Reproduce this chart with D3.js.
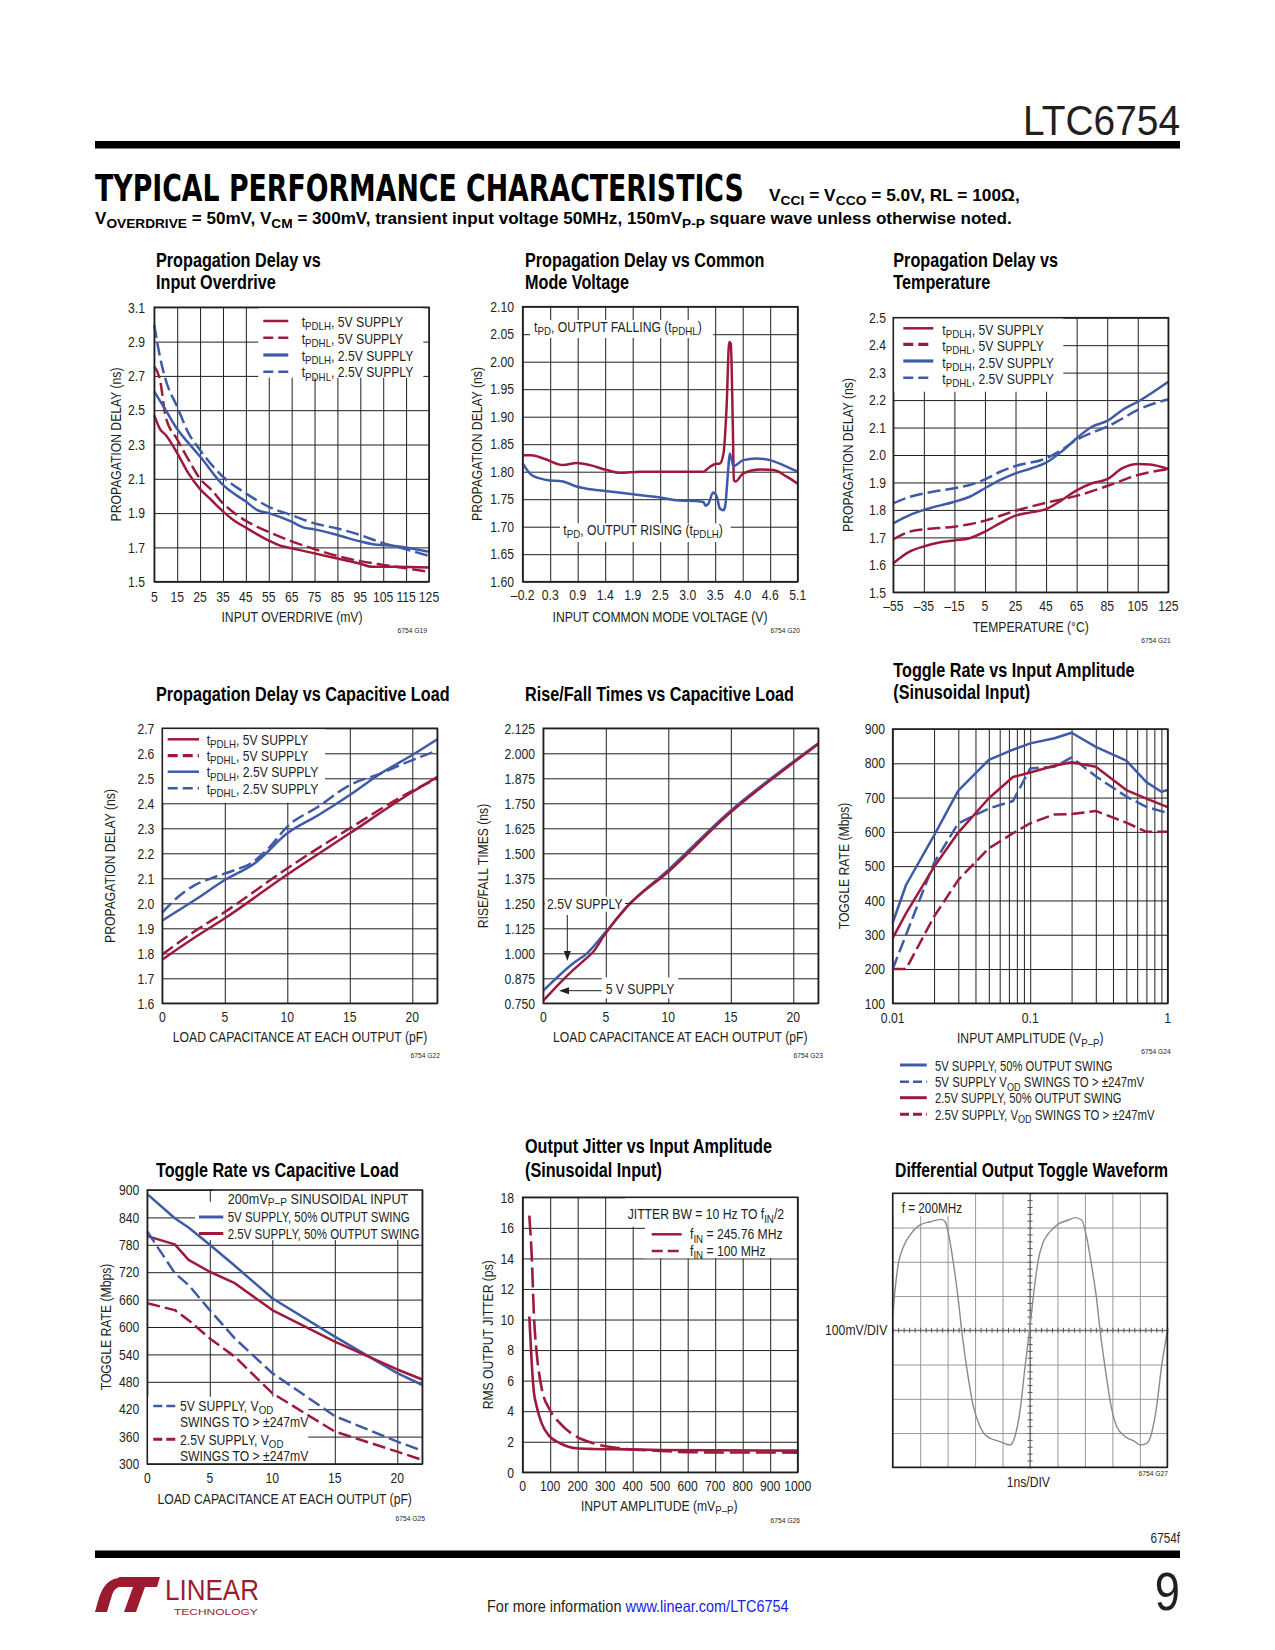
<!DOCTYPE html>
<html><head><meta charset="utf-8">
<script src="https://cdn.jsdelivr.net/npm/d3@7"></script>
<style>body{margin:0;background:#fff}svg{display:block}</style>
</head><body>
<svg id="page" width="1275" height="1650"></svg>
<script>
// ---------------- DATA ----------------
// G19 Propagation Delay vs Input Overdrive  [mV, ns]
const g19_tpdlh5  = [[5,2.47],[7.5,2.39],[10,2.355],[15,2.25],[20,2.13],[25,2.04],[30,1.975],[35,1.91],[40,1.855],[45,1.815],[55,1.74],[60,1.71],[65,1.695],[75,1.665],[85,1.635],[95,1.605],[100,1.587],[110,1.587],[125,1.583]];
const g19_tpdhl5  = [[5,2.755],[7.5,2.676],[10,2.46],[15,2.33],[20,2.21],[25,2.10],[30,2.035],[35,1.957],[40,1.9],[45,1.855],[55,1.79],[65,1.735],[75,1.69],[85,1.65],[95,1.62],[105,1.598],[115,1.578],[125,1.558]];
const g19_tpdlh25 = [[5,2.608],[10,2.5],[15,2.39],[20,2.307],[25,2.23],[35,2.064],[45,1.967],[50,1.918],[55,1.9],[65,1.85],[70,1.817],[75,1.805],[85,1.772],[95,1.735],[100,1.72],[110,1.708],[125,1.675]];
const g19_tpdhl25 = [[5,2.997],[7.5,2.81],[10,2.676],[15,2.52],[20,2.365],[25,2.268],[35,2.112],[45,2.015],[55,1.937],[65,1.888],[75,1.84],[85,1.81],[95,1.772],[105,1.725],[115,1.689],[125,1.65]];
const g19_xticks = [5,15,25,35,45,55,65,75,85,95,105,115,125];
const g19_yticks = [1.5,1.7,1.9,2.1,2.3,2.5,2.7,2.9,3.1];

// G20 Propagation Delay vs Common Mode Voltage [V, ns]
const g20_falling = [[-0.2,1.830],[-0.03,1.830],[0.2,1.824],[0.58,1.812],[0.84,1.816],[1.1,1.812],[1.42,1.803],[1.68,1.798],[2.06,1.80],[3.28,1.80],[3.41,1.809],[3.51,1.814],[3.6,1.815],[3.67,1.833],[3.73,1.918],[3.78,2.036],[3.81,2.033],[3.85,1.882],[3.87,1.785],[3.9,1.782],[4.05,1.797],[4.37,1.804],[4.63,1.803],[4.89,1.791],[5.1,1.778]];
const g20_rising  = [[-0.2,1.815],[-0.03,1.794],[0.26,1.785],[0.58,1.782],[0.84,1.773],[1.1,1.768],[1.48,1.764],[1.93,1.759],[2.45,1.753],[2.77,1.748],[3.22,1.746],[3.28,1.745],[3.33,1.738],[3.38,1.742],[3.47,1.762],[3.54,1.755],[3.6,1.733],[3.67,1.73],[3.7,1.736],[3.76,1.803],[3.79,1.833],[3.83,1.821],[3.86,1.81],[4.05,1.821],[4.3,1.824],[4.56,1.821],[4.82,1.812],[5.1,1.80]];
const g20_xticks = [-0.2,0.33,0.86,1.39,1.92,2.45,2.98,3.51,4.04,4.57,5.1];
const g20_xlabels = ["–0.2","0.3","0.9","1.4","1.9","2.5","3.0","3.5","4.0","4.6","5.1"];
const g20_yticks = [1.6,1.65,1.7,1.75,1.8,1.85,1.9,1.95,2.0,2.05,2.1];

// G21 Propagation Delay vs Temperature [°C, ns]
const g21_tpdlh5  = [[-55,1.606],[-44,1.649],[-35,1.667],[-25,1.681],[-15,1.689],[-5,1.697],[5,1.721],[15,1.752],[25,1.779],[35,1.791],[45,1.803],[55,1.835],[65,1.871],[75,1.897],[85,1.912],[95,1.952],[105,1.967],[113,1.965],[125,1.949]];
const g21_tpdhl5  = [[-55,1.693],[-44,1.721],[-35,1.729],[-15,1.739],[-5,1.748],[5,1.761],[25,1.797],[45,1.826],[65,1.851],[85,1.887],[105,1.927],[125,1.948]];
const g21_tpdlh25 = [[-55,1.751],[-44,1.782],[-35,1.80],[-15,1.83],[-5,1.848],[5,1.879],[15,1.909],[25,1.933],[35,1.951],[45,1.972],[55,2.012],[65,2.061],[75,2.103],[85,2.124],[95,2.164],[105,2.194],[125,2.267]];
const g21_tpdhl25 = [[-55,1.824],[-44,1.848],[-35,1.86],[-15,1.879],[-5,1.891],[5,1.911],[15,1.939],[25,1.96],[45,1.988],[55,2.018],[65,2.055],[75,2.081],[85,2.103],[95,2.133],[105,2.164],[125,2.203]];
const g21_xticks = [-55,-35,-15,5,25,45,65,85,105,125];
const g21_xlabels = ["–55","–35","–15","5","25","45","65","85","105","125"];
const g21_yticks = [1.5,1.6,1.7,1.8,1.9,2.0,2.1,2.2,2.3,2.4,2.5];

// G22 Propagation Delay vs Capacitive Load [pF, ns]
const g22_tpdlh5  = [[0,1.775],[2.5,1.86],[5,1.94],[10,2.115],[15,2.28],[20,2.445],[22,2.505]];
const g22_tpdhl5  = [[0,1.795],[2.5,1.885],[5,1.965],[10,2.14],[15,2.30],[20,2.45],[22,2.50]];
const g22_tpdlh25 = [[0,1.931],[2.6,2.013],[5,2.093],[7.4,2.16],[10,2.28],[12.5,2.353],[15,2.433],[17.5,2.52],[20,2.593],[22,2.656]];
const g22_tpdhl25 = [[0,1.963],[1.3,2.027],[2.6,2.073],[3.9,2.1],[5.8,2.133],[7.1,2.16],[8.5,2.22],[10,2.307],[12.5,2.387],[15,2.473],[17.5,2.52],[20,2.573],[22,2.611]];
const g22_xticks = [0,5,10,15,20];
const g22_xgrid = [0,5,10,15,20,22];
const g22_yticks = [1.6,1.7,1.8,1.9,2.0,2.1,2.2,2.3,2.4,2.5,2.6,2.7];

// G23 Rise/Fall Times vs Capacitive Load [pF, ns]
const g23_supply25 = [[0,0.813],[2.4,0.95],[3.5,1.0],[4.9,1.1],[6.7,1.233],[10,1.417],[14.9,1.708],[20,1.958],[22,2.05]];
const g23_supply5  = [[0,0.763],[1.3,0.85],[2.4,0.917],[3.3,0.967],[4,1.008],[4.9,1.092],[6.7,1.233],[10,1.408],[14.9,1.70],[20,1.953],[22,2.047]];
const g23_yticks = [0.75,0.875,1.0,1.125,1.25,1.375,1.5,1.625,1.75,1.875,2.0,2.125];
const g23_ylabels = ["0.750","0.875","1.000","1.125","1.250","1.375","1.500","1.625","1.750","1.875","2.000","2.125"];

// G24 Toggle Rate vs Input Amplitude [Vp-p, Mbps]
const g24_5v50   = [[0.01,335],[0.0125,445],[0.02,590],[0.03,720],[0.05,810],[0.07,835],[0.1,858],[0.15,873],[0.2,889],[0.3,848],[0.5,808],[0.7,745],[0.9,717],[1.0,722]];
const g24_5vVod  = [[0.01,200],[0.02,510],[0.03,625],[0.05,668],[0.075,690],[0.1,785],[0.15,790],[0.2,817],[0.3,762],[0.5,703],[0.7,673],[1,655]];
const g24_25v50  = [[0.01,290],[0.0125,362],[0.02,498],[0.03,598],[0.05,698],[0.075,760],[0.1,773],[0.15,793],[0.2,803],[0.3,790],[0.5,722],[0.7,697],[1,672]];
const g24_25vVod = [[0.01,200],[0.0125,200],[0.02,353],[0.03,460],[0.05,552],[0.075,596],[0.1,625],[0.15,651],[0.2,652],[0.3,661],[0.5,627],[0.7,600],[1,600]];
const g24_xgrid = [0.01,0.02,0.03,0.04,0.05,0.06,0.07,0.08,0.09,0.1,0.2,0.3,0.4,0.5,0.6,0.7,0.8,0.9,1];
const g24_xticks = [0.01,0.1,1];
const g24_xlabels = ["0.01","0.1","1"];
const g24_yticks = [100,200,300,400,500,600,700,800,900];

// G25 Toggle Rate vs Capacitive Load [pF, Mbps]
const g25_5v50   = [[0,891],[2.2,838],[3.3,818],[5,780],[7,734],[10,663],[15,579],[20,499],[22,473]];
const g25_25v50  = [[0,799],[2.2,781],[3.3,747],[5,721],[7,696],[10,637],[15,568],[17.7,535],[20,507],[22,485]];
const g25_5vVod  = [[0,809],[2.2,718],[3.3,692],[5,637],[7,575],[10,499],[15,405],[20,349],[22,329]];
const g25_25vVod = [[0,652],[2.2,637],[3.3,615],[5,575],[7,535],[10,455],[15,371],[20,327],[22,309]];
const g25_xticks = [0,5,10,15,20];
const g25_xgrid = [0,5,10,15,20,22];
const g25_yticks = [300,360,420,480,540,600,660,720,780,840,900];

// G26 Output Jitter vs Input Amplitude [mVp-p, ps]
const g26_f245 = [[24,10.2],[33,7.1],[41,5.2],[51,4.3],[69,3.2],[99,2.33],[136,1.9],[196,1.57],[257,1.53],[378,1.5],[500,1.46],[1000,1.42]];
const g26_f100 = [[24,16.8],[33,14.1],[41,10.2],[51,7.8],[69,5.5],[99,4.08],[136,3.2],[196,2.33],[257,1.9],[378,1.53],[500,1.4],[620,1.31],[1000,1.29]];
const g26_xticks = [0,100,200,300,400,500,600,700,800,900,1000];
const g26_yticks = [0,2,4,6,8,10,12,14,16,18];

// G27 Differential Output Toggle Waveform [div (1ns/div), div (100mV/div)]
const g27_wave = [[0,0.4],[0.085,1.18],[0.21,1.96],[0.39,2.44],[0.63,2.78],[1.0,3.08],[1.36,3.17],[1.78,3.24],[1.91,3.17],[2.03,2.83],[2.21,1.96],[2.39,0.89],[2.51,0.01],[2.69,-1.06],[2.94,-2.23],[3.18,-2.81],[3.42,-3.09],[3.91,-3.25],[4.27,-3.35],[4.45,-3.1],[4.64,-2.33],[4.82,-1.06],[5.0,0.11],[5.15,1.18],[5.3,2.05],[5.49,2.59],[5.73,2.88],[6.03,3.1],[6.4,3.22],[6.64,3.29],[6.88,3.22],[7.06,2.73],[7.25,1.86],[7.43,0.89],[7.55,0.01],[7.73,-1.06],[7.97,-2.28],[8.16,-2.81],[8.46,-3.1],[8.82,-3.25],[9.0,-3.35],[9.25,-3.3],[9.43,-3.0],[9.61,-2.23],[9.79,-1.06],[10,-0.04]];
const g27_xdiv = [0,1,2,3,4,5,6,7,8,9,10];
const g27_ydiv = [-4,-3,-2,-1,0,1,2,3,4];

// ---------------- RENDER ----------------
const svg = d3.select('#page');
svg.append('rect').attr('width',1275).attr('height',1650).attr('fill','#fff');
const RED = '#9d1a3c', BLUE = '#3f5ba8', INK = '#231f20', DASH = '13,5';

function fontOK(name){
  const cv = document.createElement('canvas').getContext('2d');
  const s = 'INPUT OVERDRIVE (mV) 0123456789 Propagation';
  cv.font = '40px monospace'; const a = cv.measureText(s).width;
  cv.font = `40px "${name}", monospace`; const b = cv.measureText(s).width;
  return Math.abs(a-b) > 1;
}
let NF = "'Liberation Sans', Arial, sans-serif", SX = 0.84;
if (fontOK('Liberation Sans Narrow')) { NF = "'Liberation Sans Narrow', sans-serif"; SX = 1; }
else if (fontOK('Arial Narrow')) { NF = "'Arial Narrow', sans-serif"; SX = 1; }

function T(parent, x, y, str, o = {}) {
  const size = o.size || 14.5;
  let sx = o.family ? 1 : SX;
  const t = parent.append('text')
    .attr('font-family', o.family || NF)
    .attr('font-size', size)
    .attr('font-weight', o.weight || 'normal')
    .attr('text-anchor', o.anchor || 'start')
    .attr('fill', o.fill || INK);
  const parts = str.split(/(_\{[^}]*\})/);
  let shifted = false;
  const sh = size * (o.subShift || 0.24);
  parts.forEach(p => {
    if (!p) return;
    if (p.startsWith('_{')) {
      t.append('tspan').attr('font-size', size * 0.8).attr('dy', shifted ? 0 : sh).text(p.slice(2, -1));
      shifted = true;
    } else {
      const ts = t.append('tspan').text(p);
      if (shifted) { ts.attr('dy', -sh); shifted = false; }
    }
  });
  if (o.len) { const w = t.node().getComputedTextLength(); if (w > 0) sx = o.len / w; }
  let tr = `translate(${x},${y})`;
  if (o.rotate) tr += ` rotate(${o.rotate})`;
  if (Math.abs(sx - 1) > 1e-3) tr += ` scale(${sx.toFixed(4)},1)`;
  t.attr('transform', tr);
  return t;
}

function chart(c) {
  const g = svg.append('g');
  const x = (c.log ? d3.scaleLog() : d3.scaleLinear()).domain(c.xd).range([c.L, c.R]);
  const y = d3.scaleLinear().domain(c.yd).range([c.B, c.T]);
  const gc = c.gridColor || INK;
  g.append('g').attr('transform', `translate(0,${c.B})`)
    .call(d3.axisBottom(x).tickValues(c.xg).tickSize(-(c.B - c.T)).tickFormat(''))
    .call(a => { a.select('.domain').remove(); a.selectAll('line').attr('stroke', gc).attr('stroke-width', c.gw || 1); });
  g.append('g').attr('transform', `translate(${c.L},0)`)
    .call(d3.axisLeft(y).tickValues(c.yg).tickSize(-(c.R - c.L)).tickFormat(''))
    .call(a => { a.select('.domain').remove(); a.selectAll('line').attr('stroke', gc).attr('stroke-width', c.gw || 1); });
  (c.masks || []).forEach(m => g.append('rect').attr('x', m[0]).attr('y', m[1]).attr('width', m[2] - m[0]).attr('height', m[3] - m[1]).attr('fill', '#fff'));
  const line = d3.line().x(d => x(d[0])).y(d => y(d[1])).curve(c.curve || d3.curveMonotoneX);
  (c.series || []).forEach(s => {
    g.append('path').datum(s.data).attr('fill', 'none').attr('stroke', s.color)
      .attr('stroke-width', s.w || 2.5).attr('stroke-dasharray', s.dash ? (s.dash === true ? DASH : s.dash) : null)
      .attr('stroke-linejoin', 'round').attr('d', line);
  });
  g.append('rect').attr('x', c.L).attr('y', c.T).attr('width', c.R - c.L).attr('height', c.B - c.T)
    .attr('fill', 'none').attr('stroke', INK).attr('stroke-width', 1.6);
  if (c.xt) c.xt.forEach((v, i) => T(g, x(v), c.xlY, c.xtl ? c.xtl[i] : String(v), { anchor: 'middle' }));
  if (c.yt) c.yt.forEach((v, i) => T(g, c.ylX, y(v) + 5.2, c.ytl ? c.ytl[i] : String(v), { anchor: 'end' }));
  if (c.ytitle) T(g, c.ytitle[0] + 5, c.ytitle[1], c.ytitle[2], { anchor: 'middle', rotate: -90 });
  if (c.xtitle) T(g, c.xtitle[0], c.xtitle[1], c.xtitle[2], { anchor: 'middle' });
  if (c.code) T(g, c.code[0], c.code[1], c.code[2], { anchor: 'end', size: 8 });
  (c.title || []).forEach(t => T(g, t[0], t[1], t[2], { size: 19.3, weight: 'bold', fill: '#000' }));
  return { g, x, y };
}

function legendRows(g, x1, x2, xt, rows) {
  rows.forEach(r => {
    g.append('line').attr('x1', x1).attr('x2', x2).attr('y1', r.ly).attr('y2', r.ly)
      .attr('stroke', r.color).attr('stroke-width', r.w || 2.5)
      .attr('stroke-dasharray', r.dash ? (r.dash === true ? '10,5' : r.dash) : null);
    const o = {};
    if (r.len) o.len = r.len;
    if (r.size) o.size = r.size;
    T(g, xt, r.ty, r.text, o);
  });
}
const r1 = (a, b, s) => d3.range(a, b + s / 2, s).map(v => +v.toFixed(4));

// ---------- Page header ----------
T(svg, 1180, 134.7, 'LTC6754', { size: 42, anchor: 'end', len: 157 });
svg.append('rect').attr('x', 95).attr('y', 141).attr('width', 1085).attr('height', 7.5).attr('fill', '#000');
T(svg, 95, 201, 'TYPICAL PERFORMANCE CHARACTERISTICS', { family: "'DejaVu Sans', sans-serif", size: 37, weight: 'bold', fill: '#000', len: 649 });
T(svg, 769, 201, 'V_{CCI} = V_{CCO} = 5.0V, RL = 100Ω,', { size: 17, weight: 'bold', fill: '#000', len: 251 });
T(svg, 95, 224, 'V_{OVERDRIVE} = 50mV, V_{CM} = 300mV, transient input voltage 50MHz, 150mV_{P-P} square wave unless otherwise noted.', { size: 17, weight: 'bold', fill: '#000', len: 917 });

// ---------- G19 ----------
{
  const c = chart({ L: 154.3, R: 429, T: 307.3, B: 581.7, xd: [5, 125], yd: [1.5, 3.1],
    xg: g19_xticks, yg: g19_yticks, xt: g19_xticks, yt: g19_yticks, ytl: g19_yticks.map(d => d.toFixed(1)),
    ylX: 145, xlY: 601.7, masks: [[258.3, 307.3, 423.3, 377.7]],
    series: [{ data: g19_tpdlh5, color: RED }, { data: g19_tpdhl5, color: RED, dash: true },
             { data: g19_tpdlh25, color: BLUE }, { data: g19_tpdhl25, color: BLUE, dash: true }],
    ytitle: [115.7, 444.5, 'PROPAGATION DELAY (ns)'], xtitle: [292, 621.7, 'INPUT OVERDRIVE (mV)'],
    code: [427, 632.7, '6754 G19'], title: [[156, 266.7, 'Propagation Delay vs'], [156, 289.3, 'Input Overdrive']] });
  legendRows(c.g, 263.3, 288.3, 301.7, [
    { ly: 321, ty: 326.7, color: RED, text: 't_{PDLH}, 5V SUPPLY' },
    { ly: 337.7, ty: 344, color: RED, dash: true, text: 't_{PDHL}, 5V SUPPLY' },
    { ly: 355, ty: 360.7, color: BLUE, w: 3.2, text: 't_{PDLH}, 2.5V SUPPLY' },
    { ly: 371.7, ty: 377.3, color: BLUE, dash: true, text: 't_{PDHL}, 2.5V SUPPLY' }]);
}

// ---------- G20 ----------
{
  const c = chart({ L: 522.7, R: 797.7, T: 306.7, B: 581.7, xd: [-0.2, 5.1], yd: [1.6, 2.1],
    xg: g20_xticks, yg: g20_yticks, xt: g20_xticks, xtl: g20_xlabels, yt: g20_yticks, ytl: g20_yticks.map(d => d.toFixed(2)),
    ylX: 514, xlY: 600, masks: [[530, 320, 713.3, 338], [560, 523.3, 730.7, 542]],
    series: [{ data: g20_falling, color: RED }, { data: g20_rising, color: BLUE }],
    ytitle: [477.3, 444, 'PROPAGATION DELAY (ns)'], xtitle: [660, 621.7, 'INPUT COMMON MODE VOLTAGE (V)'],
    code: [800, 632.7, '6754 G20'], title: [[525, 266.7, 'Propagation Delay vs Common'], [525, 289.3, 'Mode Voltage']] });
  T(c.g, 534, 331.7, 't_{PD}, OUTPUT FALLING (t_{PDHL})');
  T(c.g, 563.3, 535, 't_{PD}, OUTPUT RISING (t_{PDLH})');
}

// ---------- G21 ----------
{
  const c = chart({ L: 893.3, R: 1168.3, T: 317.7, B: 592.3, xd: [-55, 125], yd: [1.5, 2.5],
    xg: g21_xticks, yg: g21_yticks, xt: g21_xticks, xtl: g21_xlabels, yt: g21_yticks, ytl: g21_yticks.map(d => d.toFixed(1)),
    ylX: 886, xlY: 610.7, masks: [[893.3, 317.7, 1063.3, 391.7]],
    series: [{ data: g21_tpdlh5, color: RED }, { data: g21_tpdhl5, color: RED, dash: true },
             { data: g21_tpdlh25, color: BLUE }, { data: g21_tpdhl25, color: BLUE, dash: true }],
    ytitle: [848.3, 455, 'PROPAGATION DELAY (ns)'], xtitle: [1030.7, 631.7, 'TEMPERATURE (°C)'],
    code: [1170.7, 642.7, '6754 G21'], title: [[893.3, 266.7, 'Propagation Delay vs'], [893.3, 289.3, 'Temperature']] });
  legendRows(c.g, 903.3, 933.3, 942.3, [
    { ly: 328.3, ty: 335, color: RED, text: 't_{PDLH}, 5V SUPPLY' },
    { ly: 344.3, ty: 351, color: RED, dash: true, w: 3.2, text: 't_{PDHL}, 5V SUPPLY' },
    { ly: 361, ty: 367.5, color: BLUE, w: 3.2, text: 't_{PDLH}, 2.5V SUPPLY' },
    { ly: 377.7, ty: 384, color: BLUE, dash: true, text: 't_{PDHL}, 2.5V SUPPLY' }]);
}

// ---------- G22 ----------
{
  const c = chart({ L: 162.3, R: 437.3, T: 728.3, B: 1003.3, xd: [0, 22], yd: [1.6, 2.7],
    xg: g22_xgrid, yg: g22_yticks, xt: g22_xticks, yt: g22_yticks, ytl: g22_yticks.map(d => d.toFixed(1)),
    ylX: 154.3, xlY: 1022, masks: [[162.3, 728.3, 325, 802.7]],
    series: [{ data: g22_tpdlh5, color: RED }, { data: g22_tpdhl5, color: RED, dash: true },
             { data: g22_tpdlh25, color: BLUE }, { data: g22_tpdhl25, color: BLUE, dash: true }],
    ytitle: [110, 866, 'PROPAGATION DELAY (ns)'], xtitle: [300, 1042.3, 'LOAD CAPACITANCE AT EACH OUTPUT (pF)'],
    code: [440, 1057.7, '6754 G22'], title: [[156, 700.7, 'Propagation Delay vs Capacitive Load']] });
  legendRows(c.g, 167.7, 199, 206.7, [
    { ly: 739.3, ty: 745, color: RED, text: 't_{PDLH}, 5V SUPPLY' },
    { ly: 755.7, ty: 761, color: RED, dash: true, w: 3.2, text: 't_{PDHL}, 5V SUPPLY' },
    { ly: 771.7, ty: 777.3, color: BLUE, text: 't_{PDLH}, 2.5V SUPPLY' },
    { ly: 788.3, ty: 794, color: BLUE, dash: true, text: 't_{PDHL}, 2.5V SUPPLY' }]);
}

// ---------- G23 ----------
{
  const c = chart({ L: 543.3, R: 818.3, T: 728.3, B: 1003.3, xd: [0, 22], yd: [0.75, 2.125],
    xg: g22_xgrid, yg: g23_yticks, xt: g22_xticks, yt: g23_yticks, ytl: g23_ylabels,
    ylX: 535, xlY: 1022, masks: [[545, 896.7, 628.3, 911.7], [601.7, 977.3, 678.3, 998.3]],
    series: [{ data: g23_supply25, color: BLUE }, { data: g23_supply5, color: RED }],
    ytitle: [483.3, 866, 'RISE/FALL TIMES (ns)'], xtitle: [680.3, 1042.3, 'LOAD CAPACITANCE AT EACH OUTPUT (pF)'],
    code: [823, 1057.7, '6754 G23'], title: [[525, 700.7, 'Rise/Fall Times vs Capacitive Load']] });
  T(c.g, 547, 909, '2.5V SUPPLY');
  c.g.append('line').attr('x1', 625).attr('x2', 632).attr('y1', 903.5).attr('y2', 903.5).attr('stroke', INK).attr('stroke-width', 1);
  c.g.append('line').attr('x1', 567.3).attr('x2', 567.3).attr('y1', 915).attr('y2', 953).attr('stroke', INK).attr('stroke-width', 1);
  c.g.append('path').attr('d', 'M563.8,951 L570.8,951 L567.3,961 Z').attr('fill', INK);
  T(c.g, 605.7, 994, '5 V SUPPLY');
  c.g.append('line').attr('x1', 601.7).attr('x2', 567).attr('y1', 990.7).attr('y2', 990.7).attr('stroke', INK).attr('stroke-width', 1);
  c.g.append('path').attr('d', 'M569,987.2 L569,994.2 L559,990.7 Z').attr('fill', INK);
}

// ---------- G24 ----------
{
  const c = chart({ L: 892.7, R: 1167.7, T: 729, B: 1003.3, log: true, xd: [0.01, 1], yd: [100, 900],
    xg: g24_xgrid, yg: g24_yticks, xt: g24_xticks, xtl: g24_xlabels, yt: g24_yticks,
    ylX: 885, xlY: 1022.7, curve: d3.curveLinear,
    series: [{ data: g24_5v50, color: BLUE }, { data: g24_5vVod, color: BLUE, dash: true },
             { data: g24_25v50, color: RED }, { data: g24_25vVod, color: RED, dash: true }],
    ytitle: [844, 866, 'TOGGLE RATE (Mbps)'], xtitle: [1030.3, 1043.3, 'INPUT AMPLITUDE (V_{P–P})'],
    code: [1170.7, 1054.3, '6754 G24'], title: [[893.3, 676.7, 'Toggle Rate vs Input Amplitude'], [893.3, 699.3, '(Sinusoidal Input)']] });
  legendRows(c.g, 900, 926.7, 935, [
    { ly: 1065, ty: 1070.7, color: BLUE, w: 3, text: '5V SUPPLY, 50% OUTPUT SWING', len: 177.7 },
    { ly: 1081.7, ty: 1087.3, color: BLUE, dash: '9,4', text: '5V SUPPLY V_{OD}  SWINGS TO > ±247mV', len: 209.3 },
    { ly: 1097.7, ty: 1103.3, color: RED, w: 3, text: '2.5V SUPPLY, 50% OUTPUT SWING', len: 186.7 },
    { ly: 1114.3, ty: 1120, color: RED, w: 3, dash: '9,4', text: '2.5V SUPPLY, V_{OD}  SWINGS TO > ±247mV', len: 220 }]);
}

// ---------- G25 ----------
{
  const c = chart({ L: 147.3, R: 422.3, T: 1190, B: 1464, xd: [0, 22], yd: [300, 900],
    xg: g25_xgrid, yg: g25_yticks, xt: g25_xticks, yt: g25_yticks,
    ylX: 139.3, xlY: 1483.3, curve: d3.curveLinear,
    masks: [[213.3, 1190, 422.3, 1207.3], [195, 1201.7, 422.3, 1240], [147.3, 1396.7, 308.3, 1464]],
    series: [{ data: g25_5v50, color: BLUE }, { data: g25_25v50, color: RED },
             { data: g25_5vVod, color: BLUE, dash: true }, { data: g25_25vVod, color: RED, dash: true }],
    ytitle: [105.7, 1327, 'TOGGLE RATE (Mbps)'], xtitle: [284.7, 1504, 'LOAD CAPACITANCE AT EACH OUTPUT (pF)'],
    code: [425, 1521, '6754 G25'], title: [[156, 1176.7, 'Toggle Rate vs Capacitive Load']] });
  T(c.g, 227.7, 1204, '200mV_{P–P} SINUSOIDAL INPUT', { len: 180.7, size: 14, subShift: 0.17 });
  legendRows(c.g, 199, 223.3, 227.7, [
    { ly: 1217, ty: 1222, color: BLUE, w: 3, size: 14, text: '5V SUPPLY, 50% OUTPUT SWING', len: 182.3 },
    { ly: 1233.5, ty: 1238.5, color: RED, w: 3, size: 14, text: '2.5V SUPPLY, 50% OUTPUT SWING', len: 192 }]);
  legendRows(c.g, 153.3, 176.7, 180, [
    { ly: 1406, ty: 1410.7, color: BLUE, dash: '9,4', text: '5V SUPPLY, V_{OD}' },
    { ly: 1439.3, ty: 1445, color: RED, w: 3, dash: '9,4', text: '2.5V SUPPLY, V_{OD}' }]);
  T(c.g, 180, 1427.3, 'SWINGS TO > ±247mV');
  T(c.g, 180, 1460.7, 'SWINGS TO > ±247mV');
}

// ---------- G26 ----------
{
  const c = chart({ L: 522.7, R: 797.7, T: 1197.3, B: 1472.3, xd: [0, 1000], yd: [0, 18],
    xg: g26_xticks, yg: g26_yticks, xt: g26_xticks, yt: g26_yticks,
    ylX: 514, xlY: 1490.7, masks: [[625, 1197.3, 797.7, 1226.7], [645, 1226.7, 797.7, 1258.3]],
    series: [{ data: g26_f245, color: RED, w: 2.6 }, { data: g26_f100, color: RED, w: 2.6, dash: '20,6' }],
    ytitle: [488.3, 1334.8, 'RMS OUTPUT JITTER (ps)'], xtitle: [659.3, 1510.7, 'INPUT AMPLITUDE (mV_{P–P})'],
    code: [800, 1522.7, '6754 G26'], title: [[525, 1153.3, 'Output Jitter vs Input Amplitude'], [525, 1176.7, '(Sinusoidal Input)']] });
  T(c.g, 627.7, 1219.3, 'JITTER BW = 10 Hz TO f_{IN}/2');
  legendRows(c.g, 651.7, 681.7, 690, [
    { ly: 1234.3, ty: 1239.3, color: RED, text: 'f_{IN} = 245.76 MHz' },
    { ly: 1251, ty: 1256, color: RED, dash: '11,5', text: 'f_{IN} = 100 MHz' }]);
}

// ---------- G27 ----------
{
  const L = 892.7, R = 1167.3, Tp = 1193.3, B = 1467.3;
  const g = svg.append('g');
  const x = d3.scaleLinear().domain([0, 10]).range([L, R]);
  const y = d3.scaleLinear().domain([-4, 4]).range([B, Tp]);
  g.append('g').attr('transform', `translate(0,${B})`)
    .call(d3.axisBottom(x).tickValues(g27_xdiv).tickSize(-(B - Tp)).tickFormat(''))
    .call(a => { a.select('.domain').remove(); a.selectAll('line').attr('stroke', '#8c8c8c').attr('stroke-width', 0.9); });
  g.append('g').attr('transform', `translate(${L},0)`)
    .call(d3.axisLeft(y).tickValues(g27_ydiv).tickSize(-(R - L)).tickFormat(''))
    .call(a => { a.select('.domain').remove(); a.selectAll('line').attr('stroke', '#8c8c8c').attr('stroke-width', 0.9); });
  g.append('g').attr('transform', `translate(0,${y(0)})`)
    .call(d3.axisBottom(x).tickValues(r1(0, 10, 0.2)).tickSize(2.5).tickFormat(''))
    .call(a => { a.select('.domain').remove(); a.selectAll('line').attr('stroke', '#555').attr('y1', -2.5); });
  g.append('g').attr('transform', `translate(${x(5)},0)`)
    .call(d3.axisLeft(y).tickValues(r1(-4, 4, 0.2)).tickSize(2.5).tickFormat(''))
    .call(a => { a.select('.domain').remove(); a.selectAll('line').attr('stroke', '#555').attr('x2', 2.5).attr('x1', -2.5); });
  g.append('line').attr('x1', x(5)).attr('x2', x(5)).attr('y1', Tp).attr('y2', B).attr('stroke', '#666').attr('stroke-width', 1);
  g.append('line').attr('x1', L).attr('x2', R).attr('y1', y(0)).attr('y2', y(0)).attr('stroke', '#666').attr('stroke-width', 1);
  g.append('rect').attr('x', 893.5).attr('y', 1194.2).attr('width', 76).attr('height', 22).attr('fill', '#fff');
  g.append('path').datum(g27_wave).attr('fill', 'none').attr('stroke', '#8a8a8a').attr('stroke-width', 1.4)
    .attr('d', d3.line().x(d => x(d[0])).y(d => y(d[1])).curve(d3.curveMonotoneX));
  g.append('rect').attr('x', L).attr('y', Tp).attr('width', R - L).attr('height', B - Tp)
    .attr('fill', 'none').attr('stroke', INK).attr('stroke-width', 1.6);
  T(g, 901.7, 1213.3, 'f = 200MHz', { size: 14 });
  T(g, 887.3, 1335, '100mV/DIV', { size: 14.5, anchor: 'end' });
  T(g, 1028.3, 1487, '1ns/DIV', { size: 14.5, anchor: 'middle' });
  T(g, 1168, 1476, '6754 G27', { size: 8, anchor: 'end' });
  T(g, 895, 1176.7, 'Differential Output Toggle Waveform', { size: 19.3, weight: 'bold', fill: '#000', len: 273 });
}

// ---------- Footer ----------
T(svg, 1180, 1543, '6754f', { size: 14, anchor: 'end' });
svg.append('rect').attr('x', 95).attr('y', 1550.5).attr('width', 1085).attr('height', 7.5).attr('fill', '#000');
T(svg, 1180, 1610, '9', { size: 54, anchor: 'end' });
{
  const t = svg.append('text').attr('font-family', NF).attr('font-size', 16.5).attr('fill', INK);
  t.append('tspan').text('For more information ');
  t.append('tspan').attr('fill', '#1a1aee').text('www.linear.com/LTC6754');
  const w = t.node().getComputedTextLength();
  t.attr('transform', `translate(487,1611.5) scale(${(302 / w).toFixed(4)},1)`);
  const lg = svg.append('g').attr('fill', '#9b1c31');
  lg.append('path').attr('d', 'M95,1612 C99,1598 101,1587 110,1581 C115,1578 121,1577 128,1577 L125,1586 C118,1586 114,1589 112,1595 L107,1612 Z');
  lg.append('path').attr('d', 'M119,1577 L160,1577 L157,1587 L145,1587 L136,1612 L124,1612 L133,1587 L116,1587 Z');
  T(svg, 165, 1600, 'LINEAR', { size: 30, fill: '#9b1c31', len: 94 });
  T(svg, 174, 1615, 'TECHNOLOGY', { size: 8.5, fill: '#9b1c31', len: 84 });
}
</script>
</body></html>
